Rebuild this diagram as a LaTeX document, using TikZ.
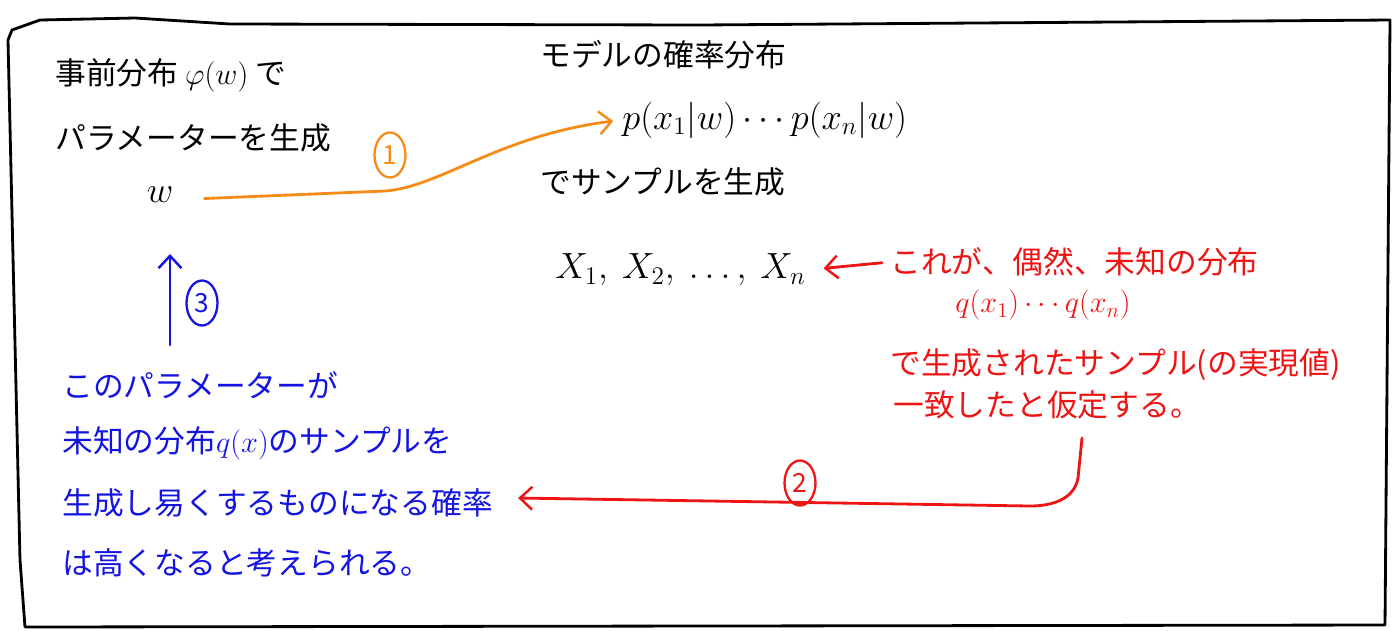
\documentclass[tikz,border=0pt]{standalone}
\usepackage{fontspec}
\setmainfont{Noto Sans CJK JP}
\usepackage{amsmath}
\usetikzlibrary{arrows.meta,shapes.geometric}
\definecolor{penorange}{RGB}{245,140,25}
\definecolor{penred}{RGB}{238,20,20}
\definecolor{penblue}{RGB}{20,20,225}
\tikzset{
  memo/.style={anchor=west, inner sep=0pt, font=\fontsize{17.5}{20}\selectfont},
  num/.style={draw, ellipse, line width=1.3pt, inner sep=0pt, minimum width=0.62cm, minimum height=0.9cm, font=\fontsize{15}{17}\selectfont},
  pen/.style={line width=1.6pt, line cap=round, line join=round},
  tip/.style={-{Straight Barb[length=7pt,width=13pt,line width=1.4pt]}}
}
\begin{document}
\begin{tikzpicture}[x=0.02cm, y=-0.02cm]
\useasboundingbox (0,0) rectangle (1398,630);
% frame
\draw[pen] (12,30) -- (40,20) -- (135,18) -- (230,24) -- (700,25) -- (1390,20)
  -- (1385,625) -- (25,627) -- (20,560) -- (8,40) -- cycle;

% prior
\node[memo] (prior1) at (55,75) {事前分布 $\varphi(w)$ で};
\node[memo] (prior2) at (55,138) {パラメーターを生成};
\node[font=\fontsize{20}{22}\selectfont] (w) at (160,195) {$w$};

% model
\node[memo] (model) at (540,55) {モデルの確率分布};
\node[memo, font=\fontsize{19.5}{22}\selectfont] (lik) at (622,120) {$p(x_1|w)\cdots p(x_n|w)$};
\node[memo] (gen) at (540,182) {でサンプルを生成};
\node[memo, font=\fontsize{20}{22}\selectfont] (xs) at (555,270) {$X_1,\ X_2,\ \dots,\ X_n$};

% red note
\begin{scope}[penred]
\node[memo] (r1) at (890,262) {これが、偶然、未知の分布};
\node[memo, font=\fontsize{17}{19}\selectfont] (r2) at (955,305) {$q(x_1)\cdots q(x_n)$};
\node[memo] (r3) at (890,365) {で生成されたサンプル(の実現値)};
\node[memo] (r4) at (893,405) {一致したと仮定する。};
\end{scope}

% blue note
\begin{scope}[penblue]
\node[memo] (b1) at (62,385) {このパラメーターが};
\node[memo] (b2) at (62,443) {未知の分布$q(x)$のサンプルを};
\node[memo] (b3) at (62,503) {生成し易くするものになる確率};
\node[memo] (b4) at (62,563) {は高くなると考えられる。};
\end{scope}

% (1)
\draw[pen, tip, penorange, shorten >=5pt] ([xshift=0.5cm,yshift=-2pt]w.east)
  -- (385,191) .. controls (440,187) and (500,135) .. (lik.west);
\node[num, penorange] (n1) at (390,155) {1};

% (2)
\draw[pen, tip, penred, shorten <=0.16cm, shorten >=0.35cm] (r1.west) -- (xs.east);
\coordinate (down) at (1082,438);
\draw[pen, tip, penred] (down) -- (1078,478) to[out=-100,in=0] (1030,506)
  -- ([xshift=0.5cm,yshift=0.1cm]b3.east);
\node[num, penred] (n2) at (800,483) {2};

% (3)
\coordinate (up) at (170,345);
\draw[pen, tip, penblue, shorten >=0.9cm] (up) -- (up |- w.south);
\node[num, penblue] (n3) at (202,303) {3};
\end{tikzpicture}
\end{document}
